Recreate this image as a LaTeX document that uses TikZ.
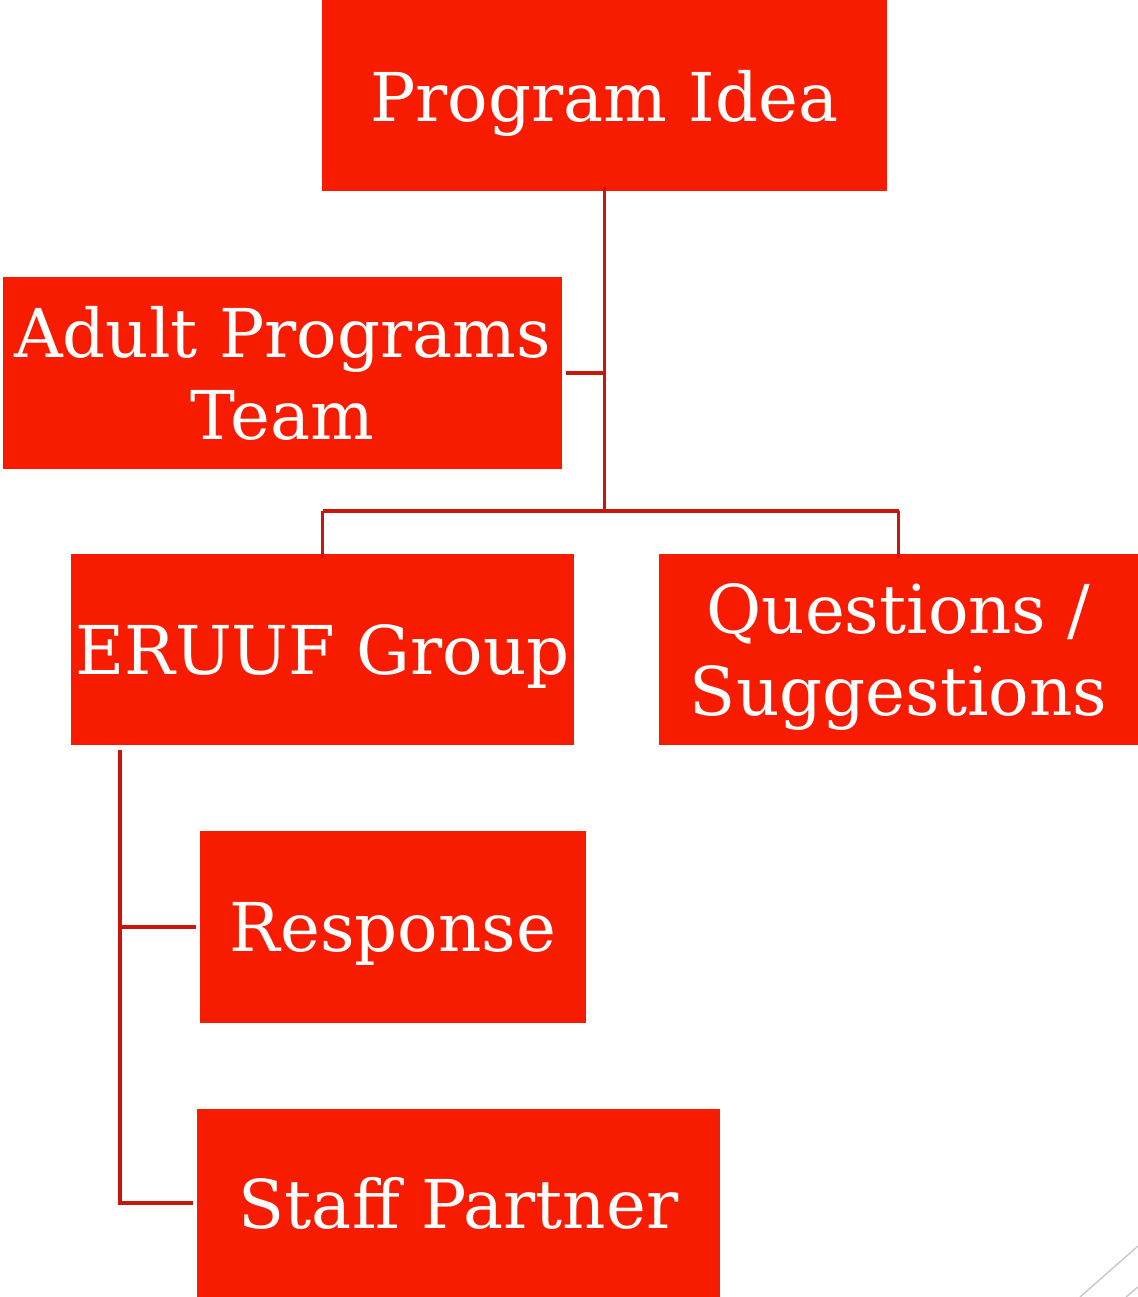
\documentclass[tikz,border=0pt]{standalone}
\usepackage{fontspec}
\setmainfont{DejaVu Serif}
\usepackage{tikz}

\definecolor{boxred}{RGB}{247,28,0}
\definecolor{linkred}{RGB}{200,22,10}

\tikzset{
  orgbox/.style={fill=boxred, draw=none, text=white, align=center, inner sep=0pt,
    text depth=0pt, font=\fontsize{50.5}{61}\selectfont},
  orglink/.style={draw=linkred, line width=2.3pt}
}

\begin{document}
\begin{tikzpicture}[x=0.75pt,y=0.75pt,yscale=-1,xscale=1]
\useasboundingbox (0,0) rectangle (1138,1297);

% boxes
\node [orgbox, minimum width=565*0.75pt, minimum height=191*0.75pt] (idea) at (604.5,95.5) {Program Idea};
\node [orgbox, minimum width=559*0.75pt, minimum height=192*0.75pt] (apt) at (282.5,373) {Adult Programs\\Team};
\node [orgbox, minimum width=503*0.75pt, minimum height=191*0.75pt] (eruuf) at (322.5,649.5) {ERUUF Group};
\node [orgbox, minimum width=479*0.75pt, minimum height=191*0.75pt] (quest) at (898.5,649.5) {Questions /\\Suggestions};
\node [orgbox, minimum width=386*0.75pt, minimum height=192*0.75pt] (resp) at (393,927) {Response};
\node [orgbox, minimum width=523*0.75pt, minimum height=188*0.75pt] (staff) at (458.5,1203) {Staff Partner};

% junctions
\coordinate (split) at (604.5,511);
\coordinate (trunk) at (120,750);

% connectors
\draw [orglink] ([yshift=-4*0.75pt]idea.south) -- (split);
\draw [orglink] ([xshift=4*0.75pt]apt.east) -- (apt.east -| split);
\draw [orglink] (eruuf.north |- split) -- (quest.north |- split);
\draw [orglink] (eruuf.north |- split) -- ([yshift=4*0.75pt]eruuf.north);
\draw [orglink] (quest.north |- split) -- ([yshift=4*0.75pt]quest.north);
\draw [orglink] (trunk) -- (trunk |- staff.west) -- ([xshift=-4*0.75pt]staff.west);
\draw [orglink] (trunk |- resp.west) -- ([xshift=-4*0.75pt]resp.west);

% slide corner
\draw [gray!45, line width=1pt] (1138,1246) -- (1080,1297);
\draw [gray!45, line width=1pt] (1138,1287) -- (1126,1297);

\end{tikzpicture}
\end{document}
